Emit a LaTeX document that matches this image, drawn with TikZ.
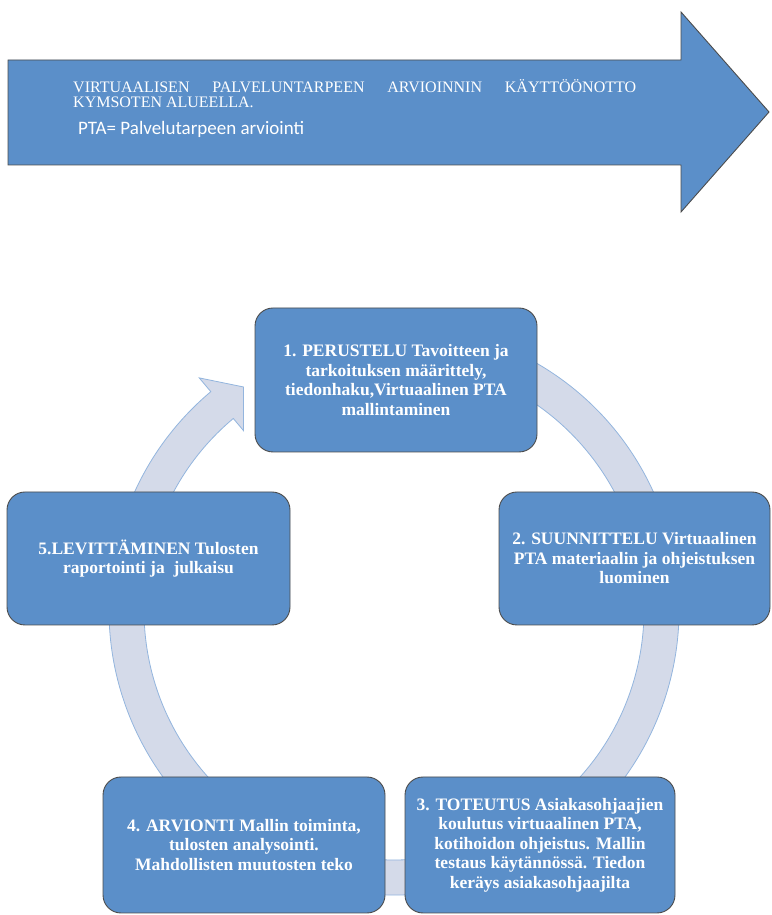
\documentclass[tikz,border=0pt]{standalone}
\usepackage{fontspec}
\setmainfont{Liberation Serif}
\newfontfamily\notefont{Carlito}
\usetikzlibrary{calc}
\definecolor{boxblue}{HTML}{5B8FC9}
\definecolor{ringfill}{HTML}{D4DAE9}
\definecolor{ringline}{HTML}{93B5DE}
\tikzset{
  phase/.style={draw=black!70, line width=0.9pt, fill=boxblue, rounded corners=18pt,
    text=white, font=\fontsize{17.5}{19.5}\selectfont\bfseries, align=center, inner sep=0pt},
  titletext/.style={anchor=base west, text=white, inner sep=0pt}
}
\begin{document}
\begin{tikzpicture}[x=1pt,y=1pt]
  \useasboundingbox (0,0) rectangle (771,915);
  \draw[draw=black!70, line width=0.9pt, fill=boxblue]
    (8,750) -- (681,750) -- (681,703) -- (769,803) -- (681,903) -- (681,855) -- (8,855) -- cycle;
  \node[titletext, font=\fontsize{16}{17}\selectfont] (title1) at (73,822)
    {\makebox[563pt][s]{VIRTUAALISEN PALVELUNTARPEEN ARVIOINNIN KÄYTTÖÖNOTTO}};
  \node[titletext, font=\fontsize{16}{17}\selectfont] (title2) at (73,807) {KYMSOTEN ALUEELLA.};
  \node[titletext, font=\notefont\fontsize{19}{20}\selectfont] (ptanote) at (78,780) {PTA= Palvelutarpeen arviointi};

  \coordinate (ctr) at (394,305);
  \draw[ringline, fill=ringfill, line width=0.8pt]
    ($(ctr)+(115:285)$) arc[start angle=115, end angle=-230, radius=285]
    -- ($(ctr)+(130:303)$) -- ($(ctr)+(124:269)$) -- ($(ctr)+(130:234)$)
    -- ($(ctr)+(130:250)$) arc[start angle=-230, end angle=115, radius=250] -- cycle;

  \node[phase, minimum width=282pt, minimum height=144pt] (p1) at (396,535)
    {1. PERUSTELU Tavoitteen ja\\tarkoituksen määrittely,\\tiedonhaku,Virtuaalinen PTA\\mallintaminen};
  \node[phase, minimum width=271pt, minimum height=133pt] (p2) at (634.5,356.5)
    {2. SUUNNITTELU Virtuaalinen\\PTA materiaalin ja ohjeistuksen\\luominen};
  \node[phase, minimum width=270pt, minimum height=136pt] (p3) at (540,70)
    {3. TOTEUTUS Asiakasohjaajien\\koulutus virtuaalinen PTA,\\kotihoidon ohjeistus. Mallin\\testaus käytännössä. Tiedon\\keräys asiakasohjaajilta};
  \node[phase, minimum width=282pt, minimum height=136pt] (p4) at (244,70)
    {4. ARVIONTI Mallin toiminta,\\tulosten analysointi.\\Mahdollisten muutosten teko};
  \node[phase, minimum width=283pt, minimum height=133pt] (p5) at (148.5,356.5)
    {5.LEVITTÄMINEN Tulosten\\raportointi ja~ julkaisu};
\end{tikzpicture}
\end{document}
